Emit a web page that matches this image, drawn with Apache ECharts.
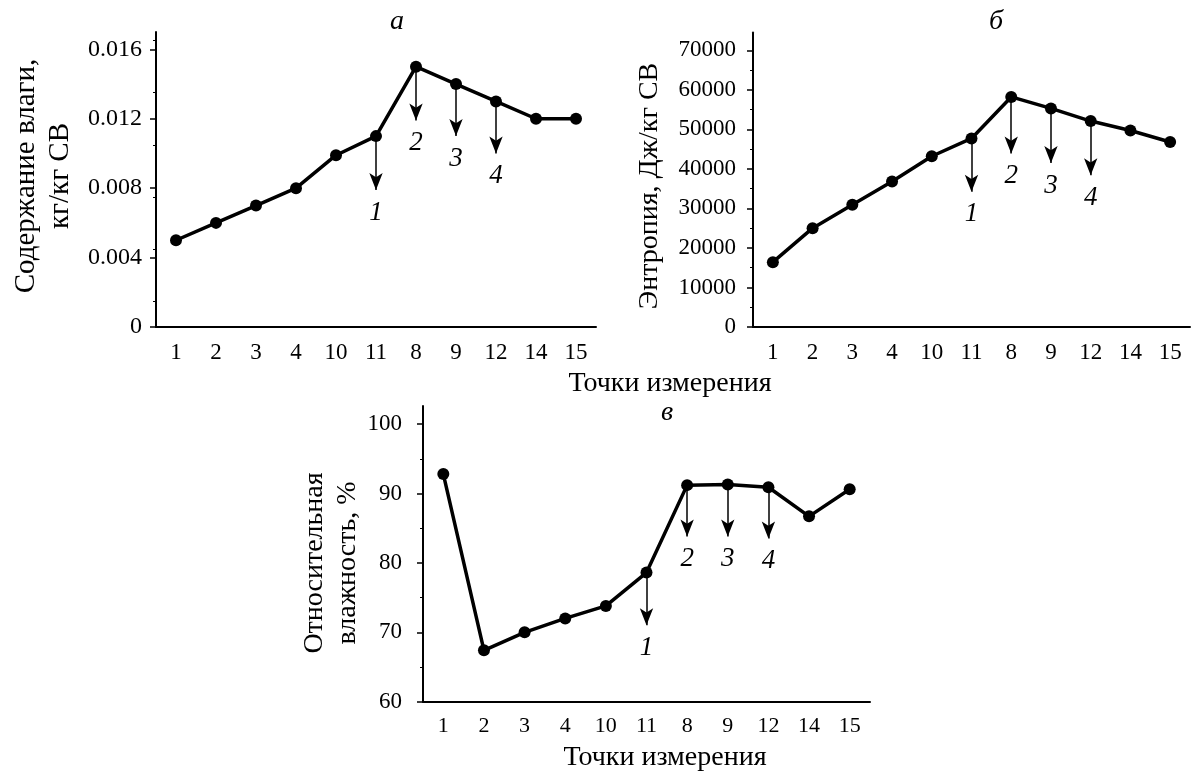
<!DOCTYPE html>
<html>
<head>
<meta charset="utf-8">
<script src="https://cdn.jsdelivr.net/npm/echarts@6/dist/echarts.min.js"></script>
<style>
html,body{margin:0;padding:0;background:#fff;}
#c{width:1195px;height:773px;}
</style>
</head>
<body>
<div id="c"></div>
<script>
// ---- data ----
const categories = ['1','2','3','4','10','11','8','9','12','14','15'];
const moistureA = [0.005, 0.006, 0.007, 0.008, 0.0099, 0.011, 0.015, 0.014, 0.013, 0.012, 0.012];
const entropyB  = [16400, 25000, 30900, 36800, 43200, 47700, 58200, 55300, 52100, 49700, 46800];
const humidityV = [92.8, 67.4, 70.0, 72.0, 73.8, 78.6, 91.2, 91.3, 90.9, 86.7, 90.6];
const ticksA = [0, 0.004, 0.008, 0.012, 0.016];
const ticksB = [0, 10000, 20000, 30000, 40000, 50000, 60000, 70000];
const ticksV = [60, 70, 80, 90, 100];
const arrowAt = ['11', '8', '9', '12'];
const arrowNames = ['1', '2', '3', '4'];
const arrowTipsA = [0.0079, 0.0119, 0.0110, 0.0100];
const arrowTipsB = [34200, 43900, 41500, 38400];
const arrowTipsV = [71.0, 83.8, 83.8, 83.5];

const SERIF = '"Liberation Serif", "Times New Roman", serif';
const chart = echarts.init(document.getElementById('c'), null, {renderer: 'canvas'});

function xAxis(gi, fs) {
  return {
    type: 'category', gridIndex: gi, data: categories, boundaryGap: true,
    axisLine: {lineStyle: {color: '#000', width: 2}},
    axisTick: {alignWithLabel: true, length: 7, lineStyle: {color: '#000', width: 1.5}},
    axisLabel: {color: '#000', fontFamily: SERIF, fontSize: fs, margin: 14},
    splitLine: {show: false}
  };
}
function yAxis(gi, min, max, ticks, fmt, margin, fs) {
  return {
    type: 'value', gridIndex: gi, min: min, max: max,
    axisLine: {show: true, lineStyle: {color: '#000', width: 2}},
    axisTick: {show: true, length: 6, customValues: ticks, lineStyle: {color: '#000', width: 1.5}},
    minorTick: {show: true, splitNumber: 2, length: 3, lineStyle: {color: '#000', width: 1}},
    axisLabel: {color: '#000', fontFamily: SERIF, fontSize: fs, margin: margin, customValues: ticks, formatter: fmt},
    splitLine: {show: false}
  };
}
function lineSeries(gi, values, tips) {
  return {
    type: 'line', xAxisIndex: gi, yAxisIndex: gi, data: values,
    symbol: 'circle', symbolSize: 12, showSymbol: true,
    lineStyle: {color: '#000', width: 3.5},
    itemStyle: {color: '#000'},
    animation: false, silent: true,
    markLine: {
      silent: true, animation: false,
      symbol: ['none', 'arrow'], symbolSize: [10, 17],
      lineStyle: {color: '#000', width: 1.5, type: 'solid'},
      label: {show: true, position: 'end', formatter: '{b}', distance: 9,
              color: '#000', fontFamily: SERIF, fontStyle: 'italic', fontSize: 27},
      emphasis: {disabled: true},
      data: arrowAt.map((c, i) => [
        {name: arrowNames[i], coord: [c, values[categories.indexOf(c)]]},
        {coord: [c, tips[i]]}
      ])
    }
  };
}
function txt(text, x, y, size, opts) {
  return Object.assign({
    type: 'text', x: x, y: y, silent: true,
    style: Object.assign({text: text, fill: '#000', fontFamily: SERIF, fontSize: size,
                          align: 'center', verticalAlign: 'middle'}, (opts && opts.style) || {})
  }, opts && opts.rotation !== undefined ? {rotation: opts.rotation} : {});
}

const option = {
  backgroundColor: '#fff',
  animation: false,
  grid: [
    {left: 156, top: 32, width: 440, height: 295},
    {left: 753, top: 32.5, width: 437, height: 294.5},
    {left: 423, top: 406, width: 447, height: 295.7}
  ],
  xAxis: [xAxis(0, 23), xAxis(1, 23), xAxis(2, 22)],
  yAxis: [
    yAxis(0, 0, 0.017, ticksA, v => v === 0 ? '0' : v.toFixed(3), 14, 24),
    yAxis(1, 0, 74500, ticksB, v => String(v), 17, 23),
    yAxis(2, 60, 102.6, ticksV, v => String(v), 21, 23)
  ],
  series: [
    lineSeries(0, moistureA, arrowTipsA),
    lineSeries(1, entropyB, arrowTipsB),
    lineSeries(2, humidityV, arrowTipsV)
  ],
  graphic: [
    txt('а', 397, 22, 28, {style: {fontStyle: 'italic'}}),
    txt('б', 996, 22, 28, {style: {fontStyle: 'italic'}}),
    txt('в', 667, 413, 28, {style: {fontStyle: 'italic'}}),
    txt('Содержание влаги,\nкг/кг СВ', 43, 176, 29, {rotation: Math.PI / 2, style: {lineHeight: 34}}),
    txt('Энтропия, Дж/кг СВ', 650, 186, 28, {rotation: Math.PI / 2}),
    txt('Относительная\nвлажность, %', 331, 563, 28, {rotation: Math.PI / 2, style: {lineHeight: 33}}),
    txt('Точки измерения', 670, 384, 28),
    txt('Точки измерения', 665, 758, 28)
  ]
};
chart.setOption(option);
</script>
</body>
</html>
